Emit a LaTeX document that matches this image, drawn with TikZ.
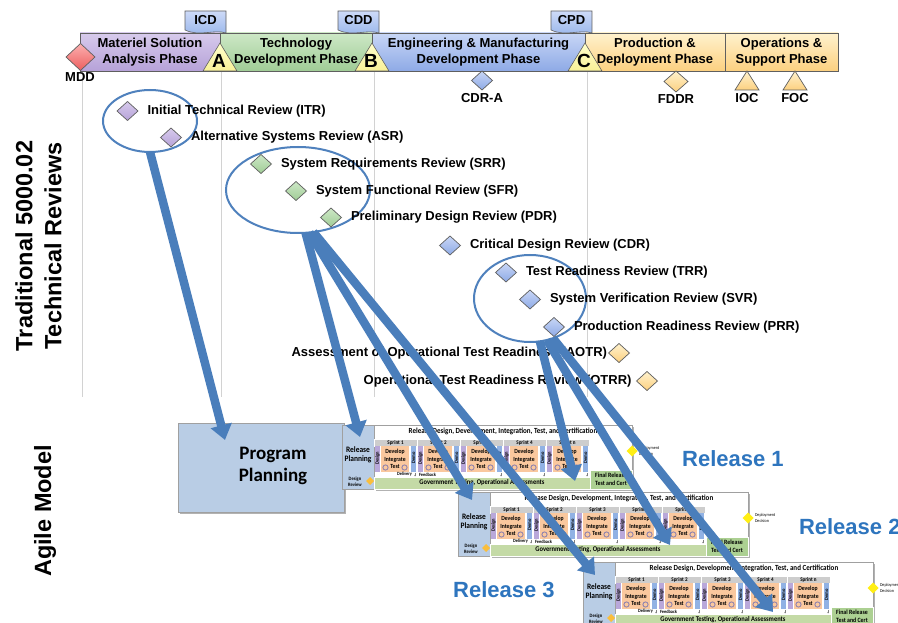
\documentclass[tikz,border=0pt]{standalone}
\usepackage{fontspec}
\setmainfont{Liberation Sans}
\newfontfamily\rfont[FakeStretch=0.9]{Carlito}
\newfontfamily\ppfont{Carlito}
\usetikzlibrary{shapes.geometric,arrows.meta,calc,shadows}

\definecolor{arrowblue}{RGB}{74,126,187}
\definecolor{ellblue}{RGB}{79,129,189}
\definecolor{relblue}{RGB}{46,117,190}
\definecolor{bargrey}{RGB}{95,95,95}
\definecolor{gridgrey}{RGB}{210,210,210}
\definecolor{purpT}{RGB}{215,202,236}
\definecolor{purpB}{RGB}{182,162,216}
\definecolor{greenT}{RGB}{205,232,198}
\definecolor{greenB}{RGB}{160,204,150}
\definecolor{blueT}{RGB}{200,214,246}
\definecolor{blueB}{RGB}{142,170,230}
\definecolor{orT}{RGB}{255,242,205}
\definecolor{orB}{RGB}{252,208,128}
\definecolor{yelT}{RGB}{255,255,205}
\definecolor{yelB}{RGB}{248,240,150}
\definecolor{redT}{RGB}{252,175,175}
\definecolor{redB}{RGB}{236,95,95}
\definecolor{tabT}{RGB}{205,218,248}
\definecolor{tabB}{RGB}{150,180,234}
\definecolor{pplan}{RGB}{185,205,229}
\definecolor{boxgrey}{RGB}{160,160,160}
\definecolor{sprgrey}{RGB}{205,205,205}
\definecolor{desp}{RGB}{185,168,218}
\definecolor{orbox}{RGB}{250,200,158}
\definecolor{demob}{RGB}{145,178,228}
\definecolor{govg}{RGB}{196,218,166}
\definecolor{fing}{RGB}{172,208,146}
\definecolor{cycc}{RGB}{135,125,175}
\definecolor{depyel}{RGB}{255,238,20}
\definecolor{drorange}{RGB}{250,190,60}

\newcommand\fs[2]{\fontsize{#1}{#2}\selectfont}

\tikzset{
 phase/.style={draw=bargrey, line width=0.8pt, minimum height=38pt, align=center, font=\fs{13}{16.5}\bfseries},
 mstri/.style={draw=bargrey, line width=0.6pt, top color=yelT, bottom color=yelB},
 doctab/.style={draw=bargrey, line width=0.6pt, top color=tabT, bottom color=tabB},
 mlbl/.style={font=\fs{13}{15}\bfseries},
 mletter/.style={font=\fs{19}{19}\bfseries},
 rev/.style={diamond, draw=bargrey, line width=0.7pt, minimum width=21pt, minimum height=19pt},
 revlbl/.style={font=\fs{13}{15}\bfseries},
 ell/.style={ellipse, draw=ellblue, line width=2pt},
 vline/.style={draw=gridgrey, line width=1pt},
 bigarrow/.style={draw=arrowblue, line width=8.5pt, -{Triangle[width=21pt,length=15pt]}},
 shad/.style={drop shadow={shadow xshift=2pt, shadow yshift=-2pt, fill=black, opacity=0.3}},
 mainbox/.style={draw=boxgrey, fill=white, line width=0.8pt, shad},
 planbox/.style={draw=boxgrey, fill=pplan, line width=0.8pt},
 sprhd/.style={fill=sprgrey, draw=white, line width=0.6pt, font=\rfont\fs{5.6}{6}\bfseries},
 tinyt/.style={font=\rfont\fs{5}{5}\bfseries},
 devt/.style={font=\rfont\fs{6.3}{7.3}\bfseries, align=center},
 cyc/.style={draw=cycc, line width=0.8pt},
 tinyarr/.style={draw=gray, line width=0.4pt, -{Stealth[length=1.5pt,width=1.5pt]}},
 relt/.style={font=\fs{22}{22}\bfseries, text=relblue},
}

\newcommand\relblock[3]{%
\begin{scope}[shift={(#1,#2)}]
\node[mainbox, anchor=north west, minimum width=258pt, minimum height=64pt] (#3box) at (32,0) {};
\node[planbox, anchor=north west, minimum width=32pt, minimum height=64pt] (#3plan) at (0,0) {};
\node[font=\rfont\fs{8.3}{9.5}\bfseries, align=center] (#3plt) at (16,30) {Release\\Planning};
\node[font=\rfont\fs{5}{6}\bfseries, align=center] (#3drt) at (13,57) {Design\\Review};
\node[diamond, fill=drorange, minimum width=8pt, minimum height=8pt] (#3drd) at (28,56) {};
\node[font=\rfont\fs{7.8}{8}\bfseries] (#3title) at (161,6.5) {Release Design, Development, Integration, Test, and Certification};
\foreach \i/\lab in {0/1,1/2,2/3,3/4,4/n}{
 \node[sprhd, anchor=north west, minimum width=43pt, minimum height=7pt] (#3h\i) at ({32+43*\i},14) {Sprint \lab};
 \node[fill=desp, anchor=north west, minimum width=5pt, minimum height=26pt] (#3d\i) at ({33+43*\i},21) {};
 \node[tinyt, rotate=90] (#3dt\i) at ({35.5+43*\i},33) {Design};
 \node[fill=orbox, anchor=north west, minimum width=28pt, minimum height=26pt] (#3o\i) at ({39+43*\i},21) {};
 \node[devt] (#3ot\i) at ({53+43*\i},34) {Develop\\Integrate\\Test};
 \node[fill=demob, anchor=north west, minimum width=5pt, minimum height=26pt] (#3m\i) at ({69+43*\i},21) {};
 \node[tinyt, rotate=90] (#3mt\i) at ({71.5+43*\i},33) {Demo};
 \draw[cyc] ({43.5+43*\i},42.5) circle (2.6pt);
 \draw[cyc] ({62.5+43*\i},42.5) circle (2.6pt);
 \draw[tinyarr] ({73+43*\i},47.5) -- ({73+43*\i},51.5);
}
\node[font=\rfont\fs{4.8}{5}\bfseries, anchor=east] (#3del) at (70,49.6) {Delivery};
\node[font=\rfont\fs{4.8}{5}\bfseries, anchor=west] (#3fb) at (77,49.6) {Feedback};
\node[fill=govg, draw=white, line width=0.4pt, anchor=north west, minimum width=216pt, minimum height=12pt, font=\rfont\fs{7.2}{8}\bfseries] (#3gov) at (32,52) {Government Testing, Operational Assessments};
\node[fill=fing, draw=white, line width=0.4pt, anchor=north west, minimum width=42pt, minimum height=19pt, align=center, font=\rfont\fs{6.5}{8}\bfseries] (#3fin) at (248,45) {Final Release\\Test and Cert};
\node[diamond, fill=depyel, minimum width=11pt, minimum height=11pt] (#3dep) at (290,26) {};
\node[anchor=west, align=left, font=\rfont\fs{4.5}{5.5}] (#3dept) at (297,26) {Deployment\\Decision};
\end{scope}}

\begin{document}
\begin{tikzpicture}[x=1pt,y=-1pt,every node/.style={inner sep=0pt,outer sep=0pt}]
\useasboundingbox (0,0) rectangle (898,623);
\fill[white] (0,0) rectangle (898,623);

% vertical guide lines
\foreach \gx in {82,221,374,587}{\draw[vline] (\gx,71) -- (\gx,397);}

% phase bar
\node[phase, minimum width=140pt, top color=purpT, bottom color=purpB] (msa) at (150,52) {Materiel Solution\\Analysis Phase};
\node[phase, minimum width=152pt, top color=greenT, bottom color=greenB] (td) at (296,52) {Technology\\Development Phase};
\node[phase, minimum width=213pt, top color=blueT, bottom color=blueB] (emd) at (478.5,52) {Engineering \& Manufacturing\\Development Phase};
\node[phase, minimum width=140pt, top color=orT, bottom color=orB] (pd) at (655,52) {Production \&\\Deployment Phase};
\node[phase, minimum width=113pt, top color=orT, bottom color=orB] (os) at (781.5,52) {Operations \&\\Support Phase};

% document tabs
\path[doctab] (185,11) -- (226,11) -- (226,33) .. controls (214,29) and (200,37) .. (185,30) -- cycle;
\node[mlbl] (icd) at (205.5,20.5) {ICD};
\path[doctab] (338,11) -- (379,11) -- (379,33) .. controls (367,29) and (353,37) .. (338,30) -- cycle;
\node[mlbl] (cdd) at (358.5,20.5) {CDD};
\path[doctab] (551,11) -- (592,11) -- (592,33) .. controls (580,29) and (566,37) .. (551,30) -- cycle;
\node[mlbl] (cpd) at (571.5,20.5) {CPD};

% milestones
\path[mstri] (203,71) -- (220,43) -- (237,71) -- cycle;
\node[mletter] (mA) at (219,61) {A};
\path[mstri] (355,71) -- (372,43) -- (389,71) -- cycle;
\node[mletter] (mB) at (371,61) {B};
\path[mstri] (568,71) -- (585,43) -- (602,71) -- cycle;
\node[mletter] (mC) at (584,61) {C};

\node[diamond, draw=bargrey, line width=0.7pt, minimum width=29pt, minimum height=27pt, top color=redT, bottom color=redB] (mdd) at (80.5,57) {};
\node[mlbl] (mddl) at (80,77) {MDD};
\node[rev, top color=blueT, bottom color=blueB] (cdra) at (482,80.5) {};
\node[mlbl] (cdral) at (482,98) {CDR-A};
\node[diamond, draw=bargrey, line width=0.7pt, minimum width=24pt, minimum height=21pt, top color=orT, bottom color=orB] (fddr) at (676,81.5) {};
\node[mlbl] (fddrl) at (676,99.5) {FDDR};
\path[draw=bargrey, line width=0.7pt, top color=orT, bottom color=orB] (735,90) -- (747,71) -- (759,90) -- cycle;
\node[mlbl] (iocl) at (747,98) {IOC};
\path[draw=bargrey, line width=0.7pt, top color=orT, bottom color=orB] (783,90) -- (795,71) -- (807,90) -- cycle;
\node[mlbl] (focl) at (795,98) {FOC};

% ellipses
\node[ell, minimum width=94pt, minimum height=62pt] (e1) at (150,121) {};
\node[ell, minimum width=144pt, minimum height=86pt] (e2) at (298,190) {};
\node[ell, minimum width=112pt, minimum height=87pt] (e3) at (530,298.5) {};

% reviews
\node[rev, top color=purpT, bottom color=purpB] (itr) at (127.5,111) {};
\node[revlbl, anchor=west] (itrl) at ($(itr.east)+(9.5,0)$) {Initial Technical Review (ITR)};
\node[rev, top color=purpT, bottom color=purpB] (asr) at (171,137.5) {};
\node[revlbl, anchor=west] (asrl) at ($(asr.east)+(9.5,0)$) {Alternative Systems Review (ASR)};
\node[rev, top color=greenT, bottom color=greenB] (srr) at (261,164) {};
\node[revlbl, anchor=west] (srrl) at ($(srr.east)+(9.5,0)$) {System Requirements Review (SRR)};
\node[rev, top color=greenT, bottom color=greenB] (sfr) at (296,191) {};
\node[revlbl, anchor=west] (sfrl) at ($(sfr.east)+(9.5,0)$) {System Functional Review (SFR)};
\node[rev, top color=greenT, bottom color=greenB] (pdr) at (331,217.5) {};
\node[revlbl, anchor=west] (pdrl) at ($(pdr.east)+(9.5,0)$) {Preliminary Design Review (PDR)};
\node[rev, top color=blueT, bottom color=blueB] (cdr) at (450,245.5) {};
\node[revlbl, anchor=west] (cdrl) at ($(cdr.east)+(9.5,0)$) {Critical Design Review (CDR)};
\node[rev, top color=blueT, bottom color=blueB] (trr) at (506,272.5) {};
\node[revlbl, anchor=west] (trrl) at ($(trr.east)+(9.5,0)$) {Test Readiness Review (TRR)};
\node[rev, top color=blueT, bottom color=blueB] (svr) at (530,299.5) {};
\node[revlbl, anchor=west] (svrl) at ($(svr.east)+(9.5,0)$) {System Verification Review (SVR)};
\node[rev, top color=blueT, bottom color=blueB] (prr) at (554,327) {};
\node[revlbl, anchor=west] (prrl) at ($(prr.east)+(9.5,0)$) {Production Readiness Review (PRR)};
\node[rev, top color=orT, bottom color=orB] (aotr) at (619,353) {};
\node[revlbl, anchor=east] (aotrl) at ($(aotr.west)+(-1.5,0)$) {Assessment of Operational Test Readiness (AOTR)};
\node[rev, top color=orT, bottom color=orB] (otrr) at (647,381) {};
\node[revlbl, anchor=east] (otrrl) at ($(otrr.west)+(-5,0)$) {Operational Test Readiness Review (OTRR)};

% left titles
\node[rotate=90, align=center, font=\fs{23.5}{29}\bfseries] (trad) at (38.5,246) {Traditional 5000.02\\Technical Reviews};
\node[rotate=90, font=\fs{23.5}{29}\bfseries] (agile) at (45,511) {Agile Model};

% program planning
\node[draw=boxgrey, fill=pplan, line width=0.8pt, shad, anchor=north west, minimum width=166pt, minimum height=89pt] (pp) at (178,423) {};
\node[font=\ppfont\fs{19}{22}\bfseries, align=center] (ppt) at (273,466) {Program\\Planning};

% releases
\relblock{342}{425}{r1}
\relblock{458}{492}{r2}
\relblock{583}{562}{r3}

\node[relt] (rl1) at (733,459) {Release 1};
\node[relt, anchor=west] (rl2) at (799,527) {Release 2};
\node[relt] (rl3) at (504,590) {Release 3};

% arrows
\draw[bigarrow] (e1.south) -- ($(pp.north west)+(47,17)$);
\draw[bigarrow] (e2.-80) -- ($(r1plan.north west)+(18,12)$);
\draw[bigarrow] (e2.-75) -- ($(r2plan.north west)+(14,8)$);
\draw[bigarrow] (e2.-70) -- ($(r3plan.north west)+(12,13)$);
\draw[bigarrow] (e3.-77) -- ($(r1plan.north west)+(233,56)$);
\draw[bigarrow] (e3.-68) -- ($(r2plan.north west)+(212,53)$);
\draw[bigarrow] (e3.-60) -- ($(r3plan.north west)+(190,50)$);
\end{tikzpicture}
\end{document}
